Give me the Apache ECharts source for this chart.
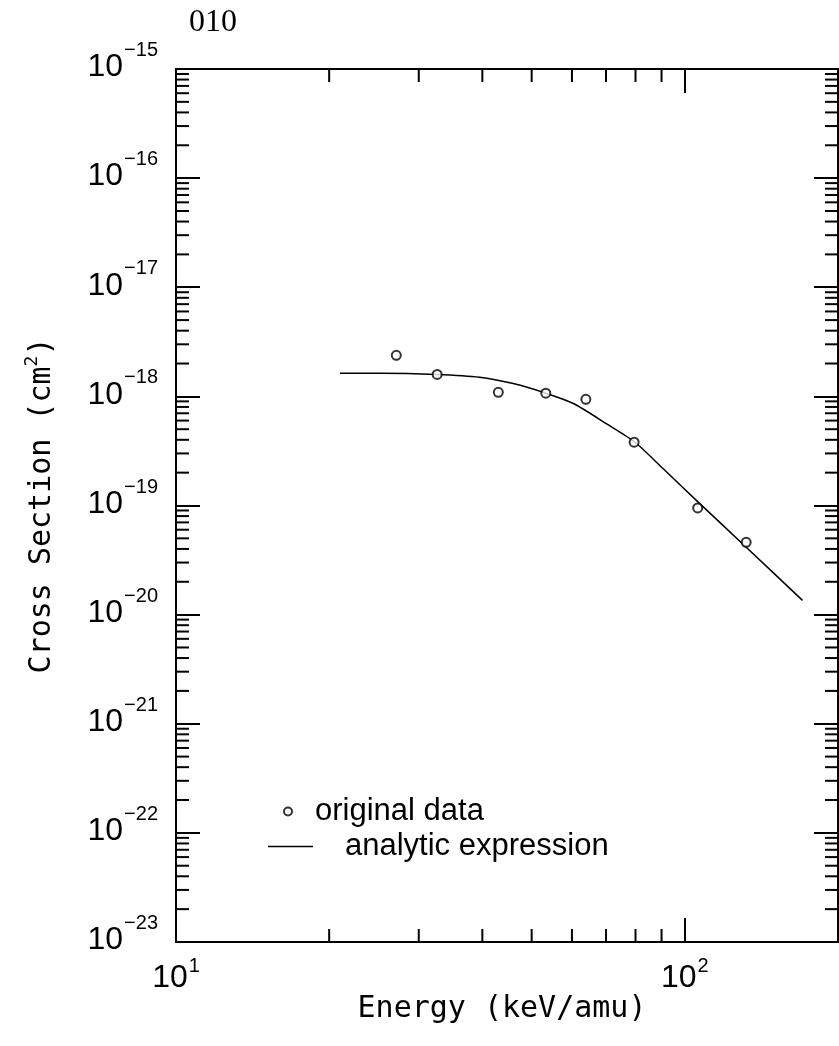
<!DOCTYPE html>
<html>
<head>
<meta charset="utf-8">
<script src="https://cdn.jsdelivr.net/npm/echarts@6/dist/echarts.min.js"></script>
<style>
html,body{margin:0;padding:0;background:#fff;}
#chart{width:839px;height:1046px;}
</style>
</head>
<body>
<div id="chart"></div>
<script>
// ---- data ----
const chartTitle = '010';
const xName = 'Energy (keV/amu)';
const yNameMain = 'Cross Section (cm';
const yNameSup = '2';
const yNameEnd = ')';
const xRange = [10, 200];
const yRange = [1e-23, 1e-15];
const legendNames = ['original data', 'analytic expression'];

const dataEnergy = [27.1, 32.6, 43.0, 53.3, 63.9, 79.5, 106, 132];
const dataSigma  = [2.38e-18, 1.59e-18, 1.09e-18, 1.07e-18, 9.4e-19, 3.8e-19, 9.5e-20, 4.6e-20];

const fitEnergy = [21, 25.2, 32.5, 39.5, 46, 53.3, 60.4, 70.2, 79.8, 90.7, 107, 132, 170.3];
const fitSigma  = [1.63e-18, 1.63e-18, 1.59e-18, 1.50e-18, 1.31e-18, 1.07e-18, 8.6e-19, 5.6e-19, 3.8e-19, 2.17e-19, 1.04e-19, 4.15e-20, 1.35e-20];

const minorMultipliers = [2, 3, 4, 5, 6, 7, 8, 9];
const xDecades = [10];
const yDecades = [1e-23, 1e-22, 1e-21, 1e-20, 1e-19, 1e-18, 1e-17, 1e-16];

// ---- build ----
const labelFont = "'Liberation Sans Narrow', 'Arial Narrow', 'Liberation Sans', sans-serif";
const monoFont = "'DejaVu Sans Mono', 'Liberation Mono', monospace";
const yAxisMin = yRange[0] * 0.9999; // tiny margin so the 10^-23 decade is a regular tick

function powLabel(v) {
  const l = Math.log10(v);
  const e = Math.round(l);
  if (Math.abs(l - e) > 1e-6) return '';
  return '{b|10}{s|' + (e < 0 ? '\u2212' + (-e) : String(e)) + '}';
}
const xRich = {
  b: {fontSize: 32, fontFamily: labelFont, color: '#000', lineHeight: 38, verticalAlign: 'bottom'},
  s: {fontSize: 20, fontFamily: labelFont, color: '#000', lineHeight: 22, verticalAlign: 'bottom', padding: [0, 0, 18, 1]}
};
const yRich = {
  b: {fontSize: 32, fontFamily: labelFont, color: '#000', lineHeight: 23, verticalAlign: 'bottom', padding: [8, 0, 0, 0]},
  s: {fontSize: 20, fontFamily: labelFont, color: '#000', lineHeight: 2, verticalAlign: 'bottom', padding: [0, 0, 23, 1]}
};

const xMinor = [];
xDecades.forEach(d => minorMultipliers.forEach(m => { const v = d * m; if (v < xRange[1]) xMinor.push(v); }));
const yMinor = [];
yDecades.forEach(d => minorMultipliers.forEach(m => yMinor.push(d * m)));

const MINOR_LEN = 13;
const lineStyleBlack = {stroke: '#000', lineWidth: 2};

function renderMinor(params, api) {
  const children = [];
  xMinor.forEach(v => {
    const pb = api.coord([v, yAxisMin]);
    const pt = api.coord([v, yRange[1]]);
    children.push({type: 'line', shape: {x1: pb[0], y1: pb[1], x2: pb[0], y2: pb[1] - MINOR_LEN}, style: lineStyleBlack});
    children.push({type: 'line', shape: {x1: pt[0], y1: pt[1], x2: pt[0], y2: pt[1] + MINOR_LEN}, style: lineStyleBlack});
  });
  yMinor.forEach(v => {
    const pl = api.coord([xRange[0], v]);
    const pr = api.coord([xRange[1], v]);
    children.push({type: 'line', shape: {x1: pl[0], y1: pl[1], x2: pl[0] + MINOR_LEN, y2: pl[1]}, style: lineStyleBlack});
    children.push({type: 'line', shape: {x1: pr[0], y1: pr[1], x2: pr[0] - MINOR_LEN, y2: pr[1]}, style: lineStyleBlack});
  });
  return {type: 'group', children: children};
}

const axisLineStyle = {show: true, onZero: false, lineStyle: {color: '#000', width: 2}};
const majorTick = {show: true, inside: true, length: 24, lineStyle: {color: '#000', width: 2}};

const chart = echarts.init(document.getElementById('chart'), null, {renderer: 'canvas'});
chart.setOption({
  animation: false,
  backgroundColor: '#fff',
  title: {
    text: chartTitle, left: 184, top: 2,
    textStyle: {fontFamily: "'Liberation Serif', 'Times New Roman', serif", fontWeight: 'normal', fontSize: 32, color: '#000'}
  },
  grid: {left: 176, right: 1, top: 69, bottom: 104, containLabel: false, outerBoundsMode: 'none'},
  legend: [
    {
      data: [{name: legendNames[0], icon: 'emptyCircle'}],
      left: 283, top: 796, padding: 0, itemWidth: 8, itemHeight: 8,
      textStyle: {fontFamily: "'Liberation Sans', Arial, sans-serif", fontSize: 31, color: '#000', padding: [0, 0, 0, 18]},
      selectedMode: false
    },
    {
      data: [{name: legendNames[1], icon: 'rect'}],
      left: 268, top: 831, padding: 0, itemWidth: 45, itemHeight: 1.5,
      textStyle: {fontFamily: "'Liberation Sans', Arial, sans-serif", fontSize: 31, color: '#000', padding: [0, 0, 0, 27]},
      selectedMode: false
    }
  ],
  xAxis: [
    {
      type: 'log', logBase: 10, min: xRange[0], max: xRange[1], position: 'bottom',
      axisLine: axisLineStyle, axisTick: majorTick, splitLine: {show: false},
      axisLabel: {formatter: powLabel, rich: xRich, margin: 14, hideOverlap: false},
      name: xName, nameLocation: 'middle', nameGap: 52, nameMoveOverlap: false,
      nameTextStyle: {fontFamily: monoFont, fontSize: 30, color: '#000', padding: [0, 10, 0, 0]}
    },
    {
      type: 'log', logBase: 10, min: xRange[0], max: xRange[1], position: 'top',
      axisLine: axisLineStyle, axisTick: majorTick, splitLine: {show: false}, axisLabel: {show: false}
    }
  ],
  yAxis: [
    {
      type: 'log', logBase: 10, min: yAxisMin, max: yRange[1], position: 'left',
      axisLine: axisLineStyle, axisTick: majorTick, splitLine: {show: false},
      axisLabel: {formatter: powLabel, rich: yRich, margin: 18, padding: [6, 0, 0, 0], showMinLabel: true, showMaxLabel: true, hideOverlap: false},
      name: '{m|' + yNameMain + '}{s|' + yNameSup + '}{m|' + yNameEnd + '}',
      nameLocation: 'middle', nameGap: 119, nameRotate: 90, nameMoveOverlap: false,
      nameTextStyle: {
        fontFamily: monoFont, fontSize: 30, color: '#000',
        rich: {
          m: {fontFamily: monoFont, fontSize: 30, color: '#000', lineHeight: 36, verticalAlign: 'bottom'},
          s: {fontFamily: monoFont, fontSize: 18, color: '#000', lineHeight: 20, verticalAlign: 'bottom', padding: [0, 0, 16, 0]}
        }
      }
    },
    {
      type: 'log', logBase: 10, min: yAxisMin, max: yRange[1], position: 'right',
      axisLine: axisLineStyle, axisTick: majorTick, splitLine: {show: false}, axisLabel: {show: false}
    }
  ],
  series: [
    {
      name: legendNames[0], type: 'scatter', xAxisIndex: 0, yAxisIndex: 0,
      data: dataEnergy.map((e, i) => [e, dataSigma[i]]),
      symbol: 'emptyCircle', symbolSize: 9,
      itemStyle: {color: '#000', borderColor: '#000', borderWidth: 1},
      z: 5
    },
    {
      name: legendNames[1], type: 'line', xAxisIndex: 0, yAxisIndex: 0,
      data: fitEnergy.map((e, i) => [e, fitSigma[i]]),
      symbol: 'none', showSymbol: false, smooth: 0.25,
      lineStyle: {color: '#000', width: 1.5},
      itemStyle: {color: '#000'},
      z: 4
    },
    {
      type: 'custom', xAxisIndex: 0, yAxisIndex: 0, silent: true,
      data: [[xRange[0], yRange[0]]],
      renderItem: renderMinor, clip: false, z: 3
    }
  ]
});
</script>
</body>
</html>
